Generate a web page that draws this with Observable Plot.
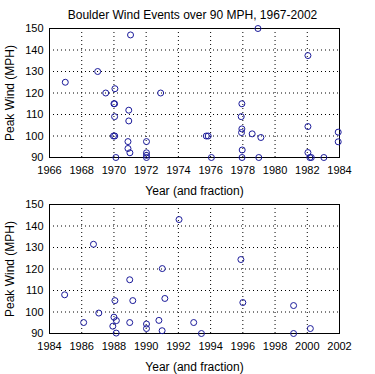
<!DOCTYPE html>
<html><head><meta charset="utf-8">
<script src="https://cdn.jsdelivr.net/npm/d3@7"></script>
<script src="https://cdn.jsdelivr.net/npm/@observablehq/plot@0.6"></script>
<style>
body{margin:0;background:#fff;font-family:"Liberation Sans",Arial,sans-serif;}
#title{height:22px;box-sizing:border-box;padding-top:9px;padding-left:10px;font-size:12px;line-height:12px;text-align:center;color:#000;}
svg{display:block;}
</style></head>
<body>
<div id="title">Boulder Wind Events over 90 MPH, 1967-2002</div>
<div id="c"></div>
<script>
const title = "Boulder Wind Events over 90 MPH, 1967-2002";
const xLabel = "Year (and fraction)";
const yLabel = "Peak Wind (MPH)";
const yTicks = [90, 100, 110, 120, 130, 140, 150];
const xTicks1 = [1966, 1968, 1970, 1972, 1974, 1976, 1978, 1980, 1982, 1984];
const xTicks2 = [1984, 1986, 1988, 1990, 1992, 1994, 1996, 1998, 2000, 2002];

// Panel 1: 1966-1984
const year1 = [1966.98, 1968.99, 1969.49, 1970.06, 1970.0, 1970.04, 1970.04, 1969.97, 1970.05, 1970.12,
  1970.92, 1970.92, 1970.87, 1970.87, 1970.99, 1971.03, 1972.02, 1972.02, 1972.02, 1972.02,
  1972.9, 1975.73, 1975.85, 1976.05, 1977.94, 1977.9, 1977.94, 1977.92, 1978.58, 1979.12,
  1977.96, 1977.95, 1978.99, 1978.94, 1982.04, 1982.04, 1982.04, 1982.16, 1982.25, 1983.03,
  1983.92, 1983.92];
const wind1 = [125, 130, 120, 122, 115, 115, 109, 100, 100, 90,
  112, 107, 97.4, 94.2, 92.2, 147, 97.4, 92.2, 91, 90,
  120, 100, 100, 90, 115, 109, 103.3, 101.6, 101, 99.3,
  93.5, 90, 90, 150, 137.4, 104.4, 92.3, 90, 90, 90,
  101.8, 97.3];

// Panel 2: 1984-2002
const year2 = [1984.94, 1986.12, 1986.73, 1987.06, 1988.0, 1988.06, 1988.15, 1987.93, 1988.14, 1988.98,
  1989.17, 1988.98, 1990.02, 1990.02, 1990.79, 1991.0, 1991.16, 1990.99, 1992.04, 1992.95,
  1993.43, 1995.88, 1996.0, 1999.15, 1999.15, 2000.19];
const wind2 = [108, 95.1, 131.5, 99.5, 97.6, 105.3, 96, 93.4, 90.2, 115,
  105.3, 95.1, 94.4, 92.3, 96.1, 120.2, 106.3, 91.3, 143, 95.1,
  90, 124.4, 104.4, 103, 90, 92.3];

const dotColor = "#1a1a9a";

function panel(years, winds, xTicks, mt, mb, h) {
  const data = years.map((y, i) => ({year: y, wind: winds[i]}));
  return Plot.plot({
    width: 375, height: h,
    marginLeft: 49, marginRight: 36, marginTop: mt, marginBottom: mb,
    style: {fontFamily: "'Liberation Sans', Arial, sans-serif", fontSize: "11px", color: "#000", background: "#fff", overflow: "visible"},
    x: {domain: [xTicks[0], xTicks[xTicks.length - 1]]},
    y: {domain: [90, 150]},
    marks: [
      Plot.ruleX(xTicks, {stroke: "#000", strokeWidth: 1, strokeDasharray: "1,3"}),
      Plot.ruleY(yTicks, {stroke: "#000", strokeWidth: 1, strokeDasharray: "1,3"}),
      Plot.frame({stroke: "#000", strokeWidth: 1}),
      Plot.axisX({ticks: xTicks, tickFormat: "d", tickSize: 0, tickPadding: 9, label: null}),
      Plot.axisY({ticks: yTicks, tickFormat: "d", tickSize: 0, tickPadding: 6, label: null}),
      Plot.axisX({ticks: [], label: xLabel, labelArrow: "none", labelAnchor: "center", labelOffset: 37, fontSize: 12}),
      Plot.axisY({ticks: [], label: yLabel, labelArrow: "none", labelAnchor: "center", labelOffset: 44, fontSize: 12}),
      Plot.dot(data, {x: "year", y: "wind", r: 3, stroke: dotColor, strokeWidth: 1, fill: "none"})
    ]
  });
}

const c = document.getElementById("c");
c.appendChild(panel(year1, wind1, xTicks1, 6, 39, 174));
c.appendChild(panel(year2, wind2, xTicks2, 8, 41, 178));
</script>
</body></html>
